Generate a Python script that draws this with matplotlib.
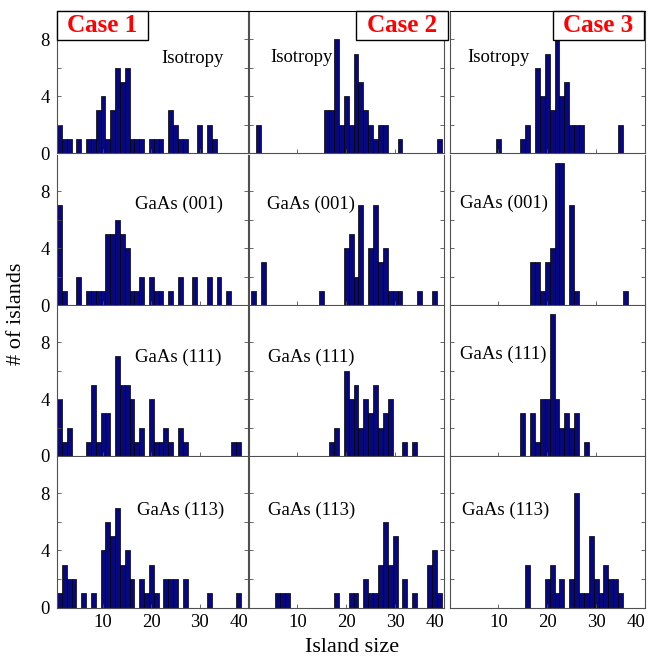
import matplotlib
matplotlib.use('Agg')
import matplotlib.pyplot as plt
from matplotlib.patches import Rectangle

plt.rcParams['font.family'] = ['Liberation Serif', 'DejaVu Serif']

# ---- data: island size -> number of islands ----
# row 1 : Isotropy
iso1_size = [1, 2, 3, 5, 7, 8, 9, 10, 11, 12, 13, 14, 15, 16, 17, 18, 20, 21, 22, 24, 25, 26, 27, 30, 32, 33]
iso1_num = [2, 1, 1, 1, 1, 1, 3, 4, 1, 3, 6, 5, 6, 1, 1, 1, 1, 1, 1, 3, 2, 1, 1, 2, 2, 1]
iso2_size = [2, 16, 17, 18, 19, 20, 21, 22, 23, 24, 25, 26, 27, 28, 31, 39]
iso2_num = [2, 3, 3, 8, 2, 4, 2, 7, 5, 3, 2, 1, 2, 2, 1, 1]
iso3_size = [10, 15, 16, 18, 19, 20, 21, 22, 23, 24, 25, 26, 27, 35]
iso3_num = [1, 1, 2, 6, 4, 7, 3, 8, 4, 5, 2, 2, 2, 2]
# row 2 : GaAs (001)
g001_1_size = [1, 2, 5, 7, 8, 9, 10, 11, 12, 13, 14, 15, 16, 17, 18, 20, 21, 22, 24, 26, 29, 32, 34, 36]
g001_1_num = [7, 1, 2, 1, 1, 1, 1, 5, 5, 6, 5, 4, 1, 1, 2, 2, 1, 1, 1, 2, 2, 2, 2, 1]
g001_2_size = [1, 3, 15, 20, 21, 22, 23, 25, 26, 27, 28, 29, 30, 31, 35, 38]
g001_2_num = [1, 3, 1, 4, 5, 2, 7, 4, 7, 3, 4, 1, 1, 1, 1, 1]
g001_3_size = [17, 18, 19, 20, 21, 22, 23, 25, 26, 36]
g001_3_num = [3, 3, 1, 3, 4, 10, 10, 7, 1, 1]
# row 3 : GaAs (111)
g111_1_size = [1, 2, 3, 7, 8, 9, 10, 11, 13, 14, 15, 16, 17, 18, 20, 21, 22, 23, 24, 26, 27, 37, 38]
g111_1_num = [4, 1, 2, 1, 5, 1, 3, 3, 7, 5, 5, 4, 1, 2, 4, 1, 1, 2, 1, 2, 1, 1, 1]
g111_2_size = [17, 18, 20, 21, 22, 23, 24, 25, 26, 27, 28, 29, 32, 34]
g111_2_num = [1, 2, 6, 4, 5, 2, 4, 3, 5, 2, 3, 4, 1, 1]
g111_3_size = [15, 17, 18, 19, 20, 21, 22, 23, 24, 25, 26, 28]
g111_3_num = [3, 3, 1, 4, 4, 10, 4, 2, 3, 2, 3, 1]
# row 4 : GaAs (113)
g113_1_size = [1, 2, 3, 4, 6, 8, 10, 11, 12, 13, 14, 15, 16, 18, 19, 20, 21, 23, 24, 25, 27, 32, 38]
g113_1_num = [1, 3, 2, 2, 1, 1, 4, 6, 5, 7, 3, 4, 2, 2, 1, 3, 1, 2, 2, 2, 2, 1, 1]
g113_2_size = [6, 7, 8, 18, 21, 22, 24, 25, 26, 27, 28, 29, 30, 32, 34, 37, 38, 39]
g113_2_num = [1, 1, 1, 1, 1, 1, 2, 1, 1, 3, 6, 3, 5, 2, 1, 3, 4, 1]
g113_3_size = [16, 20, 21, 22, 23, 25, 26, 27, 28, 29, 30, 31, 32, 33, 34, 35]
g113_3_num = [3, 2, 3, 1, 2, 2, 8, 1, 1, 5, 2, 1, 3, 2, 2, 1]

row_labels = ['Isotropy', 'GaAs (001)', 'GaAs (111)', 'GaAs (113)']
case_labels = ['Case 1', 'Case 2', 'Case 3']
panels = [
    [(iso1_size, iso1_num), (iso2_size, iso2_num), (iso3_size, iso3_num)],
    [(g001_1_size, g001_1_num), (g001_2_size, g001_2_num), (g001_3_size, g001_3_num)],
    [(g111_1_size, g111_1_num), (g111_2_size, g111_2_num), (g111_3_size, g111_3_num)],
    [(g113_1_size, g113_1_num), (g113_2_size, g113_2_num), (g113_3_size, g113_3_num)],
]
xticks = [10, 20, 30, 40]
yticks = [0, 2, 4, 6, 8]
ytick_labels = ['0', '', '4', '', '8']

# ---- layout (pixels) ----
W, H = 649, 660
fig = plt.figure(figsize=(W / 100, H / 100), dpi=100)

col_px = [(57, 248), (248.5, 444), (449.5, 645)]
row_px = [(11, 153), (155, 305), (306, 456), (457, 607.5)]
# label anchor (x left, baseline y) in pixels
lab_px = [[(161, 63), (270, 62), (467, 62)],
          [(135, 209), (267, 209), (460, 208)],
          [(135, 362), (268, 362), (460, 359)],
          [(137, 515), (268, 515), (462, 515)]]
case_box = [(0.0, 0.476), (0.55, 0.47), (0.528, 0.467)]

bar_col = '#08087e'
spine_col = '#505050'

for r in range(4):
    for c in range(3):
        l, rr = col_px[c]
        t, b = row_px[r]
        ax = fig.add_axes([l / W, 1 - b / H, (rr - l) / W, (b - t) / H])
        size, num = panels[r][c]
        ax.bar(size, num, width=1.0, color=bar_col, edgecolor='black', linewidth=0.5)
        ax.set_xlim(0.5 if c == 0 else 0, 40)
        ax.set_ylim(0, 10 if r == 0 else 10.55)
        ax.set_xticks(xticks)
        ax.set_yticks(yticks)
        if c == 0:
            ax.set_yticklabels(ytick_labels, fontsize=13.5)
        else:
            ax.set_yticklabels([])
        if r == 3:
            ax.set_xticklabels([str(v) for v in xticks], fontsize=13.5)
            # last label sits inside the panel, as in the original figure
            ax.get_xticklabels()[-1].set_horizontalalignment('right')
        else:
            ax.set_xticklabels([])
        ax.tick_params(direction='in', length=3, width=0.6, right=True, top=False,
                       colors=spine_col, labelcolor='black', pad=5)
        for s in ax.spines.values():
            s.set_color(spine_col)
            s.set_linewidth(0.8)
        if r == 0:
            ax.spines['top'].set_color('black')
            bx, bw = case_box[c]
            ax.add_patch(Rectangle((bx, 0.796), bw, 0.204, transform=ax.transAxes,
                                   facecolor='white', edgecolor='black', linewidth=1.0,
                                   clip_on=False, zorder=5))
            ax.text(bx + bw / 2, 0.898, case_labels[c], transform=ax.transAxes,
                    ha='center', va='center', color='red', fontsize=18,
                    fontweight='bold', zorder=6)
        else:
            ax.spines['top'].set_visible(False)
        lx, ly = lab_px[r][c]
        fig.text(lx / W, 1 - ly / H, row_labels[r], ha='left', va='baseline', fontsize=13.5)

fig.text(17 / W, 1 - 314 / H, '# of islands', rotation=90, ha='center', va='center', fontsize=16)
fig.text(352 / W, 1 - 648 / H, 'Island size', ha='center', va='center', fontsize=16)

fig.savefig('out.png', dpi=100)
